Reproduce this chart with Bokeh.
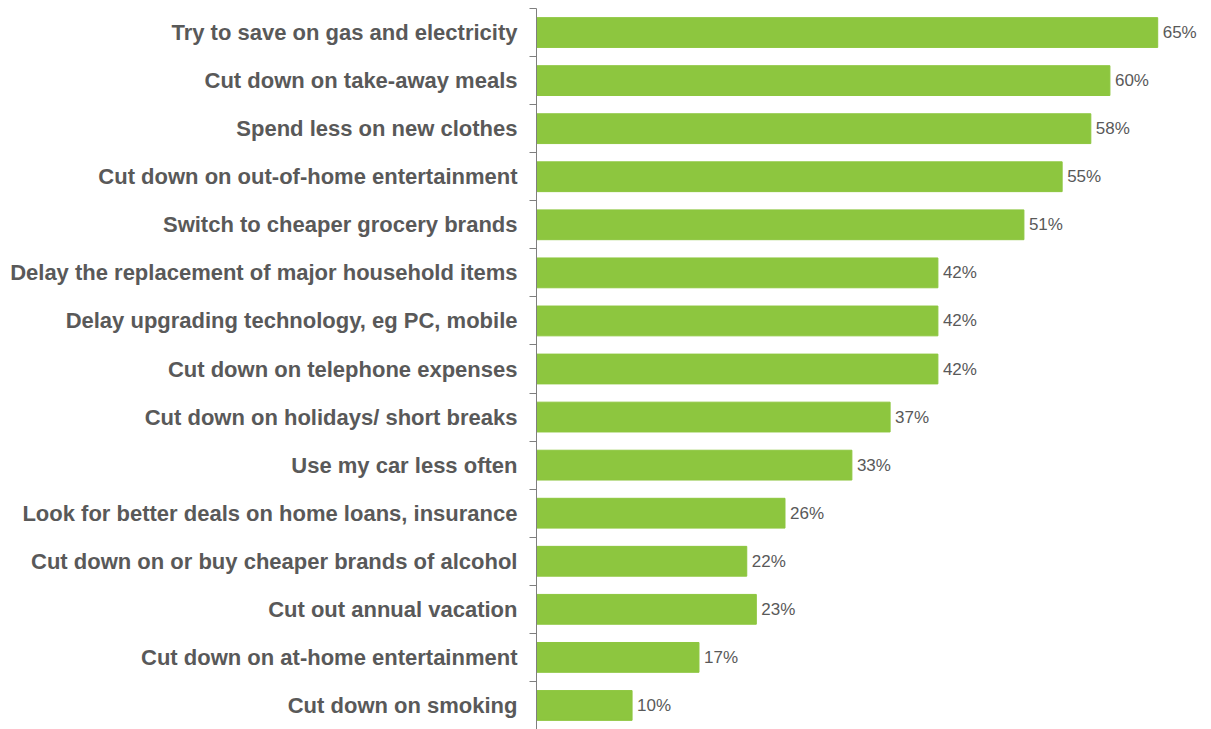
from bokeh.plotting import figure
from bokeh.models import ColumnDataSource, Range1d, FixedTicker, LinearAxis, LabelSet
from bokeh.core.properties import value
from bokeh.embed import file_html
from bokeh.resources import INLINE

categories = [
    "Try to save on gas and electricity",
    "Cut down on take-away meals",
    "Spend less on new clothes",
    "Cut down on out-of-home entertainment",
    "Switch to cheaper grocery brands",
    "Delay the replacement of major household items",
    "Delay upgrading technology, eg PC, mobile",
    "Cut down on telephone expenses",
    "Cut down on holidays/ short breaks",
    "Use my car less often",
    "Look for better deals on home loans, insurance",
    "Cut down on or buy cheaper brands of alcohol",
    "Cut out annual vacation",
    "Cut down on at-home entertainment",
    "Cut down on smoking",
]
values = [65, 60, 58, 55, 51, 42, 42, 42, 37, 33, 26, 22, 23, 17, 10]
value_labels = [f"{v}%" for v in values]

n = len(categories)
pos = list(range(1, n + 1))

src = ColumnDataSource(dict(y=pos, v=values, lab=value_labels))

p = figure(width=1205, height=729, output_backend="svg", toolbar_location=None,
           x_range=Range1d(0, 70), y_range=Range1d(n + 0.5, 0.5),
           x_axis_location=None, y_axis_location=None,
           min_border_left=536, min_border_right=0, min_border_top=8, min_border_bottom=0)
p.outline_line_color = None
p.xgrid.visible = False
p.ygrid.visible = False

p.hbar(y="y", right="v", left=0, height=0.62, color="#8DC63F", source=src)

ax = LinearAxis(ticker=FixedTicker(ticks=pos, minor_ticks=[i + 0.5 for i in range(0, n + 1)]))
ax.major_label_overrides = {i: c for i, c in zip(pos, categories)}
ax.major_tick_out = 0
ax.major_tick_in = 0
ax.minor_tick_out = 7
ax.minor_tick_in = 0
ax.minor_tick_line_color = "#7f7f7f"
ax.axis_line_color = "#7f7f7f"
ax.major_label_standoff = 12
ax.major_label_text_font = "Liberation Sans"
ax.major_label_text_font_style = "bold"
ax.major_label_text_font_size = "22px"
ax.major_label_text_color = "#595959"
p.add_layout(ax, "left")

labels = LabelSet(x="v", y="y", text="lab", source=src, x_offset=5,
                  text_baseline="middle", text_align="left",
                  text_font=value("Liberation Sans"), text_font_size="17px",
                  text_color="#595959")
p.add_layout(labels)

open("out.html", "w").write(file_html(p, INLINE))
